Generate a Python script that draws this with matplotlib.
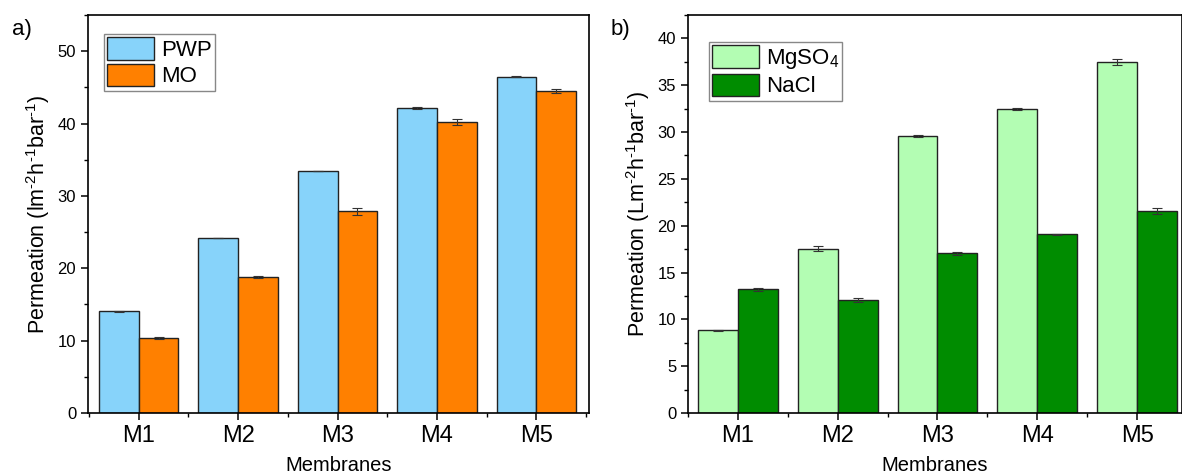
import matplotlib.pyplot as plt
import numpy as np
from matplotlib.ticker import MultipleLocator

plt.rcParams["font.family"] = ["Liberation Sans", "DejaVu Sans"]
plt.rcParams["mathtext.default"] = "regular"

membranes = ["M1", "M2", "M3", "M4", "M5"]

# panel a
pwp = [14.05, 24.2, 33.45, 42.1, 46.5]
pwp_err = [0.05, 0.05, 0.05, 0.15, 0.05]
mo = [10.4, 18.8, 27.85, 40.25, 44.5]
mo_err = [0.15, 0.2, 0.5, 0.4, 0.25]

# panel b
mgso4 = [8.85, 17.55, 29.55, 32.5, 37.45]
mgso4_err = [0.05, 0.25, 0.1, 0.1, 0.3]
nacl = [13.2, 12.05, 17.05, 19.1, 21.55]
nacl_err = [0.2, 0.25, 0.15, 0.05, 0.3]

HY = "\u2010"  # plain hyphen in superscripts, as in the original


def draw_panel(ax, s1, e1, s2, e2, labels, colors, ylim, ymaj, ylabel, xlim, leg_anchor):
    xs = np.arange(1, len(membranes) + 1)
    w = 0.4
    err_kw = dict(ecolor="#333333", elinewidth=0.8, capsize=3.5, capthick=0.8)
    ax.bar(xs - w / 2, s1, w, yerr=e1, color=colors[0], edgecolor="#222222",
           linewidth=1.0, label=labels[0], error_kw=err_kw, zorder=2)
    ax.bar(xs + w / 2, s2, w, yerr=e2, color=colors[1], edgecolor="#222222",
           linewidth=1.0, label=labels[1], error_kw=err_kw, zorder=2)
    ax.set_xlim(*xlim)
    ax.set_ylim(*ylim)
    ax.set_xticks(xs)
    ax.set_xticklabels(membranes, fontsize=17)
    ax.xaxis.set_minor_locator(MultipleLocator(0.5))
    ax.yaxis.set_major_locator(MultipleLocator(ymaj))
    ax.yaxis.set_minor_locator(MultipleLocator(ymaj / 2))
    ax.tick_params(axis="y", which="major", labelsize=12, length=5, width=1.1, direction="out")
    ax.tick_params(axis="x", which="major", length=5, width=1.1, direction="out", pad=4)
    ax.tick_params(which="minor", length=3, width=1.0, direction="out")
    for sp in ax.spines.values():
        sp.set_linewidth(1.2)
    ax.set_xlabel("Membranes", fontsize=14.5, labelpad=6)
    ax.set_ylabel(ylabel, fontsize=15.5, labelpad=4)
    ax.legend(loc="upper left", bbox_to_anchor=leg_anchor, fontsize=16, fancybox=False,
              edgecolor="#888888", framealpha=1, handlelength=2.1, handleheight=1.2,
              labelspacing=0.1, borderpad=0.15, handletextpad=0.3, borderaxespad=0)


fig = plt.figure(figsize=(11.82, 4.75), dpi=100)
ax1 = fig.add_axes([88 / 1182, 62 / 475, 501 / 1182, 398 / 475])
ax2 = fig.add_axes([688 / 1182, 62 / 475, 494 / 1182, 398 / 475])

draw_panel(ax1, pwp, pwp_err, mo, mo_err, ["PWP", "MO"], ["#87D3FA", "#FF8000"],
           (0, 55), 10, "Permeation (lm$^{" + HY + "2}$h$^{" + HY + "1}$bar$^{" + HY + "1}$)",
           (0.49, 5.53), (0.032, 0.952))
draw_panel(ax2, mgso4, mgso4_err, nacl, nacl_err, [r"MgSO$_4$", "NaCl"], ["#B3FDB3", "#008C00"],
           (0, 42.5), 5, "Permeation (Lm$^{" + HY + "2}$h$^{" + HY + "1}$bar$^{" + HY + "1}$)",
           (0.5, 5.45), (0.0425, 0.932))

fig.text(12 / 1182, 1 - 30 / 475, "a)", fontsize=16, va="center", ha="left")
fig.text(611 / 1182, 1 - 30 / 475, "b)", fontsize=16, va="center", ha="left")

fig.savefig("out.png", dpi=100)
